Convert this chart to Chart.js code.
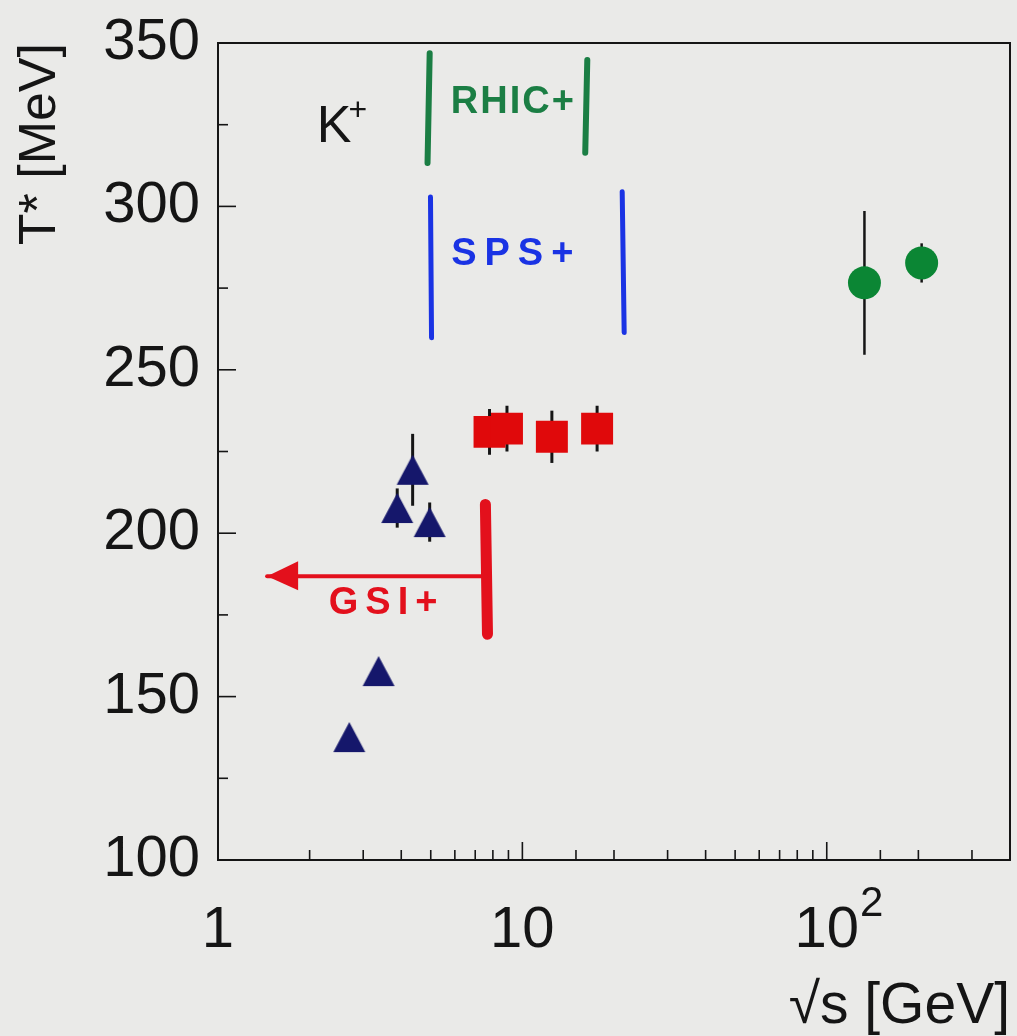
<!DOCTYPE html>
<html>
<head>
<meta charset="utf-8">
<script src="https://cdn.jsdelivr.net/npm/chart.js@4.4.1/dist/chart.umd.min.js"></script>
<style>
  html, body { margin: 0; padding: 0; background: #eaeae8; }
  #wrap { width: 1017px; height: 1036px; }
</style>
</head>
<body>
<div id="wrap"><canvas id="chart" width="1017" height="1036"></canvas></div>
<script>
"use strict";

/* ── Data: √s [GeV] vs T* [MeV] for K+ ───────────────────────────────── */
const agsX = [2.7, 3.37, 3.88, 4.36, 4.96];
const agsY = [137.6, 157.8, 207.7, 219.4, 203.4];
const agsErr = [0, 0, 6, 11, 6];

const spsX = [7.8, 8.9, 12.5, 17.6];
const spsY = [231, 232, 229.5, 232];
const spsErr = [7, 7, 8, 7];

const rhicX = [133, 205];
const rhicY = [276.6, 282.7];
const rhicErr = [22, 6];

const yMajorTicks = [100, 150, 200, 250, 300, 350];
const xTickLabels = { 1: "1", 10: "10", 100: "10" };
const xTickExponents = { 100: "2" };

// hand-drawn marks, given in (√s, T*) units
const rhicBracket = [[[4.96, 346.9], [4.88, 313.3]], [[16.34, 344.8], [16.09, 316.4]]];
const rhicLabel = [9.34, 331.7];
const spsBracket = [[[4.99, 302.9], [5.03, 259.8]], [[21.28, 304.5], [21.6, 261.4]]];
const spsLabel = [9.55, 285.2];
const gsiBar = [[7.56, 208.8], [7.68, 169.1]];
const gsiArrow = [[7.6, 186.8], [1.45, 186.8]];
const gsiLabel = [3.58, 178.5];
const particleLabel = [2.11, 319.7];

/* ── Styles ─────────────────────────────────────────────────────────── */
const FONT = '"Liberation Sans", Arial, sans-serif';
const INK = "#151515";
const NAVY = "#15176b";
const RED = "#e0090b";
const GREEN = "#0b8634";

function toPoints(xs, ys) {
  return xs.map((x, i) => ({ x, y: ys[i] }));
}

function makeTriangle(color) {
  const c = document.createElement("canvas");
  c.width = 34;
  c.height = 32;
  const g = c.getContext("2d");
  g.fillStyle = color;
  g.beginPath();
  g.moveTo(17, 1);
  g.lineTo(33, 31);
  g.lineTo(1, 31);
  g.closePath();
  g.fill();
  return c;
}

/* ── Plugins ────────────────────────────────────────────────────────── */
const errorBars = {
  id: "errorBars",
  beforeDatasetsDraw(chart) {
    const { ctx } = chart;
    const yScale = chart.scales.y;
    ctx.save();
    ctx.strokeStyle = INK;
    chart.data.datasets.forEach((ds, i) => {
      const meta = chart.getDatasetMeta(i);
      ctx.lineWidth = ds.errWidth;
      meta.data.forEach((pt, j) => {
        const e = ds.errors[j];
        if (!e) return;
        const v = ds.data[j].y;
        ctx.beginPath();
        ctx.moveTo(pt.x, yScale.getPixelForValue(v + e));
        ctx.lineTo(pt.x, yScale.getPixelForValue(v - e));
        ctx.stroke();
      });
    });
    ctx.restore();
  },
};

const frameAndTicks = {
  id: "frameAndTicks",
  afterDraw(chart) {
    const { ctx, chartArea: a } = chart;
    const { x, y } = chart.scales;
    ctx.save();
    ctx.strokeStyle = INK;
    ctx.lineWidth = 2;
    ctx.strokeRect(a.left, a.top, a.right - a.left, a.bottom - a.top);
    ctx.lineWidth = 1.6;
    y.ticks.forEach((t) => {
      const py = y.getPixelForValue(t.value);
      const len = yMajorTicks.includes(t.value) ? 18 : 10;
      ctx.beginPath();
      ctx.moveTo(a.left, py);
      ctx.lineTo(a.left + len, py);
      ctx.stroke();
    });
    x.ticks.forEach((t) => {
      const px = x.getPixelForValue(t.value);
      const len = xTickLabels[Math.round(t.value)] ? 18 : 10;
      ctx.beginPath();
      ctx.moveTo(px, a.bottom);
      ctx.lineTo(px, a.bottom - len);
      ctx.stroke();
    });

    // superscript exponents on the decade labels (10^2)
    ctx.fillStyle = INK;
    ctx.textAlign = "left";
    ctx.textBaseline = "alphabetic";
    Object.keys(xTickExponents).forEach((k) => {
      const px = x.getPixelForValue(Number(k));
      ctx.font = `58px ${FONT}`;
      const w = ctx.measureText(xTickLabels[k]).width;
      ctx.font = `42px ${FONT}`;
      ctx.fillText(xTickExponents[k], px + w / 2 + 1, a.bottom + 56);
    });
    ctx.restore();
  },
};

const handNotes = {
  id: "handNotes",
  afterDatasetsDraw(chart) {
    const { ctx } = chart;
    const { x, y } = chart.scales;
    const P = (p) => [x.getPixelForValue(p[0]), y.getPixelForValue(p[1])];
    const stroke = (seg, color, width) => {
      const [a, b] = [P(seg[0]), P(seg[1])];
      ctx.strokeStyle = color;
      ctx.lineWidth = width;
      ctx.beginPath();
      ctx.moveTo(a[0], a[1]);
      ctx.lineTo(b[0], b[1]);
      ctx.stroke();
    };
    const text = (str, at, color, spacing) => {
      const [px, py] = P(at);
      ctx.fillStyle = color;
      ctx.font = `bold 38px ${FONT}`;
      ctx.letterSpacing = spacing;
      ctx.textAlign = "center";
      ctx.textBaseline = "middle";
      ctx.fillText(str, px, py);
    };

    ctx.save();
    ctx.lineCap = "round";

    rhicBracket.forEach((s) => stroke(s, "#1b7e44", 6));
    text("RHIC+", rhicLabel, "#1b7e44", "2px");

    spsBracket.forEach((s) => stroke(s, "#1a33e4", 5));
    text("SPS+", spsLabel, "#1a33e4", "8px");

    stroke(gsiBar, "#e3101c", 11);
    stroke(gsiArrow, "#e3101c", 4);
    const tip = P(gsiArrow[1]);
    ctx.fillStyle = "#e3101c";
    ctx.beginPath();
    ctx.moveTo(tip[0], tip[1]);
    ctx.lineTo(tip[0] + 31, tip[1] - 15);
    ctx.lineTo(tip[0] + 31, tip[1] + 14);
    ctx.closePath();
    ctx.fill();
    text("GSI+", gsiLabel, "#e3101c", "7px");

    // K+ label
    const [kx, ky] = P(particleLabel);
    ctx.letterSpacing = "0px";
    ctx.fillStyle = INK;
    ctx.textAlign = "left";
    ctx.textBaseline = "alphabetic";
    ctx.font = `52px ${FONT}`;
    ctx.fillText("K", kx, ky);
    const kw = ctx.measureText("K").width;
    ctx.font = `32px ${FONT}`;
    ctx.fillText("+", kx + kw - 3, ky - 22);
    ctx.restore();
  },
};

/* ── Chart ──────────────────────────────────────────────────────────── */
function initChart() {
  const ctx = document.getElementById("chart").getContext("2d");

  new Chart(ctx, {
    type: "scatter",
    data: {
      datasets: [
        {
          data: toPoints(agsX, agsY),
          errors: agsErr,
          errWidth: 3,
          pointStyle: makeTriangle(NAVY),
          pointRadius: 17,
          pointHoverRadius: 17,
        },
        {
          data: toPoints(spsX, spsY),
          errors: spsErr,
          errWidth: 3,
          pointStyle: "rect",
          pointRadius: 22.6,
          pointHoverRadius: 22.6,
          backgroundColor: RED,
          borderWidth: 0,
        },
        {
          data: toPoints(rhicX, rhicY),
          errors: rhicErr,
          errWidth: 2.5,
          pointStyle: "circle",
          pointRadius: 16.5,
          pointHoverRadius: 16.5,
          backgroundColor: GREEN,
          borderWidth: 0,
        },
      ],
    },
    options: {
      responsive: false,
      animation: false,
      events: [],
      layout: { autoPadding: false, padding: { top: 43, right: 7, left: 0, bottom: 0 } },
      plugins: { legend: { display: false }, tooltip: { enabled: false } },
      scales: {
        x: {
          type: "logarithmic",
          min: 1,
          max: 400,
          afterFit: (s) => {
            s.height = 176;
            s.paddingLeft = 0;
            s.paddingRight = 0;
          },
          grid: { display: false, drawTicks: false },
          border: { display: false },
          ticks: {
            autoSkip: false,
            maxRotation: 0,
            padding: 36,
            color: INK,
            font: { family: FONT, size: 58 },
            callback: (v) => xTickLabels[Math.round(v)] || "",
          },
          title: {
            display: true,
            text: "\u221As [GeV]",
            align: "end",
            color: INK,
            font: { family: FONT, size: 57, lineHeight: 1 },
            padding: { top: 0, bottom: 0 },
          },
        },
        y: {
          min: 100,
          max: 350,
          afterFit: (s) => {
            s.width = 218;
            s.paddingTop = 0;
            s.paddingBottom = 0;
          },
          grid: { display: false, drawTicks: false },
          border: { display: false },
          ticks: {
            stepSize: 25,
            autoSkip: false,
            padding: 18,
            color: INK,
            font: { family: FONT, size: 58 },
            callback: (v) => (yMajorTicks.includes(v) ? String(v) : ""),
          },
          title: {
            display: true,
            text: "T* [MeV]",
            align: "end",
            color: INK,
            font: { family: FONT, size: 52, lineHeight: 1 },
            padding: { top: 15, bottom: 0 },
          },
        },
      },
    },
    plugins: [errorBars, handNotes, frameAndTicks],
  });
}

document.addEventListener("DOMContentLoaded", initChart);
</script>
</body>
</html>
